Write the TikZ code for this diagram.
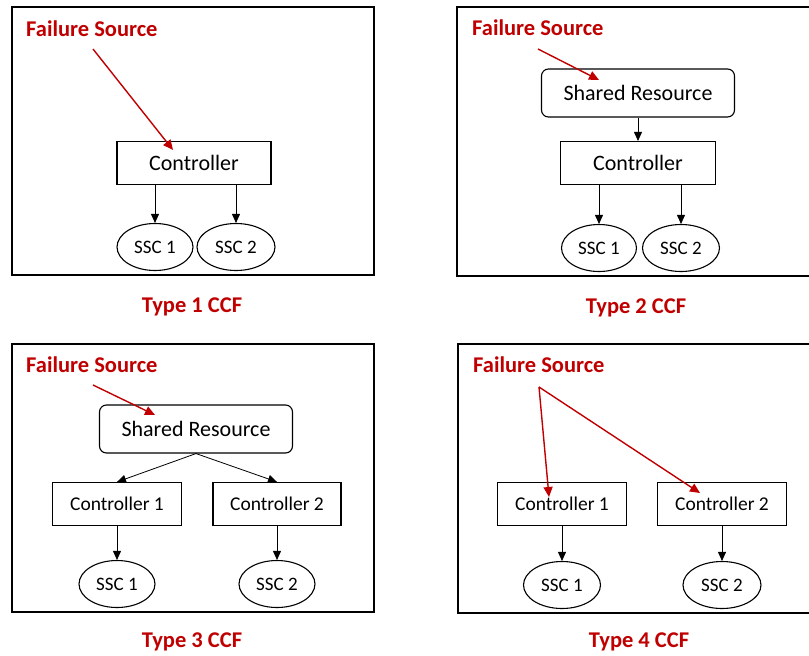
\documentclass[tikz,border=0pt]{standalone}
\usepackage{fontspec}
\setmainfont{Carlito}
\usetikzlibrary{shapes.geometric,arrows.meta}
\definecolor{failred}{RGB}{192,0,0}

\begin{document}
\begin{tikzpicture}[x=1pt,y=-1pt,
    frame/.style={draw,line width=1.6pt},
    box/.style={draw,line width=1.1pt,inner sep=0pt,minimum height=43pt,font=\fontsize{19.5}{22}\selectfont},
    bigbox/.style={box,font=\fontsize{22}{26}\selectfont},
    rbox/.style={bigbox,rounded corners=7pt,minimum height=48pt},
    ssc/.style={draw,ellipse,line width=1.1pt,inner sep=0pt,minimum width=76pt,minimum height=47pt,font=\fontsize{19}{22}\selectfont},
    src/.style={text=failred,inner sep=0pt,anchor=west,font=\bfseries\fontsize{22.5}{26}\selectfont},
    typelabel/.style={text=failred,inner sep=0pt,font=\bfseries\fontsize{22.5}{26}\selectfont},
    link/.style={-{Triangle[width=8pt,length=9pt]},line width=0.8pt},
    hit/.style={-{Triangle[width=9pt,length=10pt]},failred,line width=1.4pt}]
	\useasboundingbox (0,0) rectangle (809,656);
	%\draw [help lines,step=50] (0,0) grid (809,656);

	% type 1: source hits the controller
	\draw[frame] (12,7) rectangle (374,275);
	\node[src] (fs1) at (26,29) {Failure Source};
	\node[bigbox,minimum width=154pt] (ctl1) at (194,163) {Controller};
	\node[ssc] (ssca1) at (155,247) {SSC 1};
	\node[ssc,minimum width=78pt] (sscb1) at (236,247) {SSC 2};
	\coordinate (src1) at (93,49);
	\coordinate (hit1) at (173,150);
	\draw[hit] (src1) -- (hit1);
	\draw[link] (ssca1.north |- ctl1.south) -- (ssca1.north);
	\draw[link] (sscb1.north |- ctl1.south) -- (sscb1.north);
	\node[typelabel] (type1) at (192,307) {Type 1 CCF};

	% type 2: source hits the shared resource
	\draw[frame] (457,7) rectangle (830,276);
	\node[src] (fs2) at (472,28) {Failure Source};
	\node[rbox,minimum width=193pt] (res2) at (638,93) {Shared Resource};
	\node[bigbox,minimum width=155pt] (ctl2) at (638,163) {Controller};
	\node[ssc,minimum width=75pt] (ssca2) at (599,248) {SSC 1};
	\node[ssc,minimum width=77pt] (sscb2) at (681,248) {SSC 2};
	\coordinate (src2) at (538,49);
	\coordinate (hit2) at (599,80);
	\draw[hit] (src2) -- (hit2);
	\draw[link] (res2.south) -- (ctl2.north);
	\draw[link] (ssca2.north |- ctl2.south) -- (ssca2.north);
	\draw[link] (sscb2.north |- ctl2.south) -- (sscb2.north);
	\node[typelabel] (type2) at (636,308) {Type 2 CCF};

	% type 3: shared resource feeds two controllers
	\draw[frame] (12,344) rectangle (374,612);
	\node[src] (fs3) at (26,365) {Failure Source};
	\node[rbox,minimum width=193pt] (res3) at (196,429) {Shared Resource};
	\node[box,minimum width=129pt] (ctla3) at (117,504) {Controller 1};
	\node[box,minimum width=128pt] (ctlb3) at (277,504) {Controller 2};
	\node[ssc] (ssca3) at (117,584) {SSC 1};
	\node[ssc] (sscb3) at (277,584) {SSC 2};
	\coordinate (src3) at (93,385);
	\coordinate (hit3) at (155,415);
	\draw[hit] (src3) -- (hit3);
	\draw[link] (res3.south) -- (ctla3.north);
	\draw[link] (res3.south) -- (ctlb3.north);
	\draw[link] (ctla3) -- (ssca3);
	\draw[link] (ctlb3) -- (sscb3);
	\node[typelabel] (type3) at (192,642) {Type 3 CCF};

	% type 4: one source hits both controllers
	\draw[frame] (458,344) rectangle (830,613);
	\node[src] (fs4) at (473,365) {Failure Source};
	\node[box,minimum width=129pt] (ctla4) at (562,504) {Controller 1};
	\node[box,minimum width=129pt] (ctlb4) at (722,504) {Controller 2};
	\node[ssc,minimum width=77pt] (ssca4) at (562,585) {SSC 1};
	\node[ssc,minimum width=78pt] (sscb4) at (722,585) {SSC 2};
	\coordinate (src4) at (539,387);
	\coordinate (hita4) at (549,497);
	\coordinate (hitb4) at (700,493);
	\draw[hit] (src4) -- (hita4);
	\draw[hit] (src4) -- (hitb4);
	\draw[link] (ctla4) -- (ssca4);
	\draw[link] (ctlb4) -- (sscb4);
	\node[typelabel] (type4) at (639,642) {Type 4 CCF};
\end{tikzpicture}
\end{document}
